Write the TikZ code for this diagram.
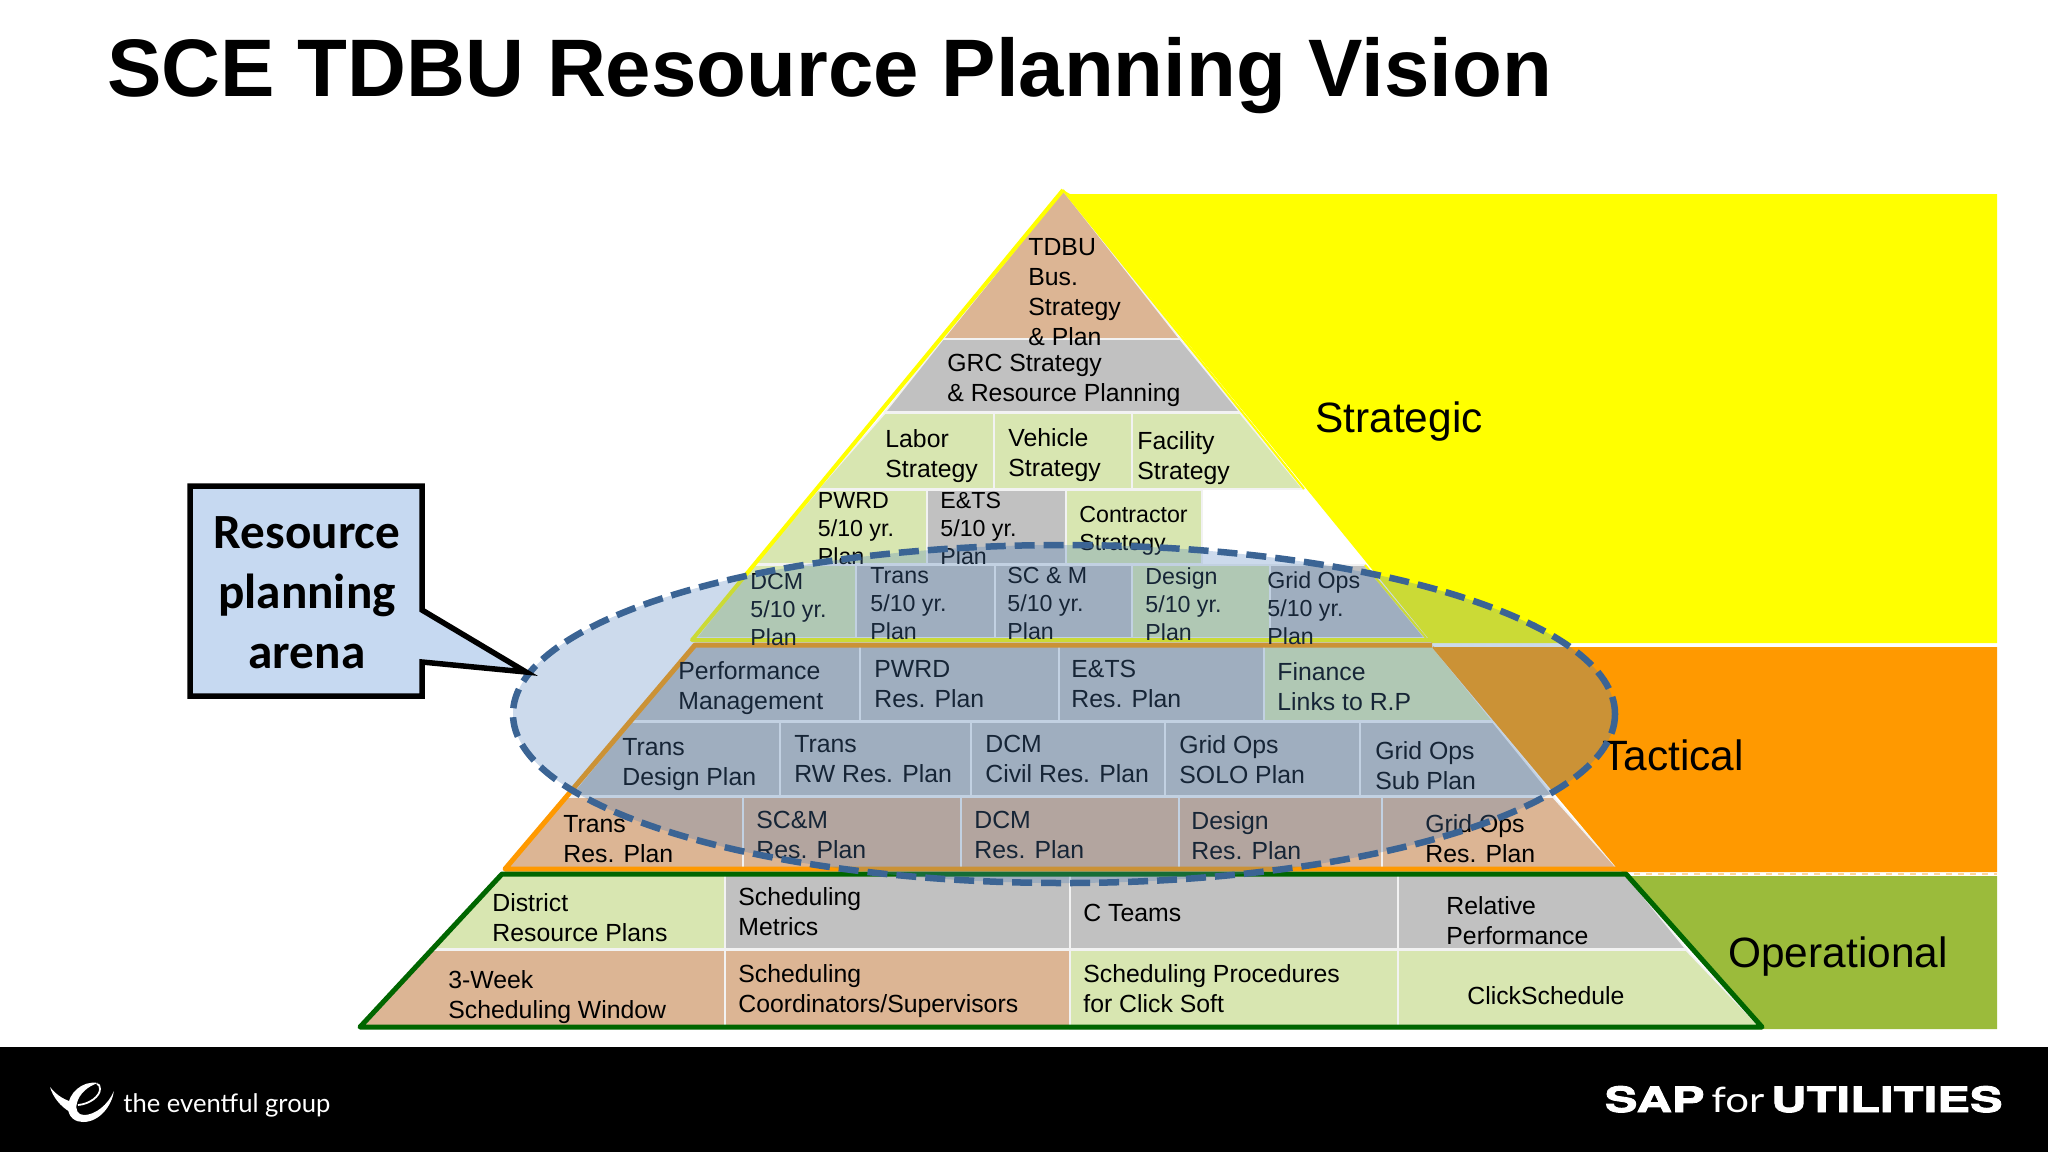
\documentclass[tikz,border=0pt]{standalone}
\usepackage{fontspec}
\setmainfont{Liberation Sans}
\newfontfamily\calloutfont{Carlito}
\newfontfamily\logofont{Lato}
\newfontfamily\sapfont[FakeStretch=1.4,BoldFeatures={FakeBold=2.5}]{TeX Gyre Heros}
\newfontfamily\forfont[FakeStretch=1.2]{Lato}
\usetikzlibrary{positioning}

\definecolor{tanfill}{HTML}{DCB594}
\definecolor{grayfill}{HTML}{C1C1C1}
\definecolor{greenfill}{HTML}{D8E6B1}
\definecolor{bandyellow}{HTML}{FFFF00}
\definecolor{bandorange}{HTML}{FF9900}
\definecolor{bandgreen}{HTML}{9BBB3B}
\definecolor{opgreen}{HTML}{006600}
\definecolor{arenablue}{HTML}{4F81BD}
\definecolor{arenaline}{HTML}{3B6494}
\definecolor{calloutblue}{HTML}{C6D9F1}

\begin{document}
\begin{tikzpicture}[
  x = 0.5pt,
  y = -0.5pt,
  cell/.style = {draw = white!90!gray, line width = 0.8pt},
  tan cell/.style = {cell, fill = tanfill},
  gray cell/.style = {cell, fill = grayfill},
  green cell/.style = {cell, fill = greenfill},
  lbl/.style = {anchor = west, align = left, inner sep = 0pt, yshift = -2.25pt,
    execute at end node = \strut,
    font = \fontsize{12.4}{15}\selectfont},
  small lbl/.style = {lbl, yshift = -0.2pt,
    font = \fontsize{11.6}{14}\selectfont},
  band/.style = {anchor = west, inner sep = 0pt,
    font = \fontsize{21.2}{25}\selectfont}
  ]

  \useasboundingbox (0,0) rectangle (2048,1152);

  \fill[bandyellow] (1063,190) -- (1070,194) -- (1997,194) -- (1997,643) -- (1432,643) -- cycle;
  \fill[bandorange] (1432,647) -- (1997,647) -- (1997,872) -- (1622,872) -- cycle;
  \fill[bandgreen] (1626,876) -- (1997,876) -- (1997,1029) -- (1070,1029) -- (1070,1024) -- (1762,1024) -- cycle;
  \draw[white, dashed, line width = 1pt] (1432,645) -- (1997,645);
  \draw[white!60!bandorange, dashed, line width = 1pt] (1622,873.5) -- (1997,873.5);

  \draw[tan cell] (1063,190) -- (1180,339) -- (943,339) -- cycle;
  \draw[gray cell] (943,339) -- (1180,339) -- (1240,412) -- (885,412) -- cycle;

  \draw[green cell] (885,413) -- (994,413) -- (994,489) -- (818,489) -- cycle;
  \draw[green cell] (994,413) -- (1132,413) -- (1132,489) -- (994,489) -- cycle;
  \draw[green cell] (1132,413) -- (1240,413) -- (1303,489) -- (1132,489) -- cycle;

  \draw[green cell] (818,490) -- (927,490) -- (927,564) -- (754,564) -- cycle;
  \draw[gray cell] (927,490) -- (1066,490) -- (1066,564) -- (927,564) -- cycle;
  \draw[green cell] (1066,490) -- (1202,490) -- (1202,564) -- (1066,564) -- cycle;

  \draw[green cell] (754,565) -- (856,565) -- (856,638) -- (696,638) -- cycle;
  \draw[gray cell] (856,565) -- (995,565) -- (995,638) -- (856,638) -- cycle;
  \draw[gray cell] (995,565) -- (1132,565) -- (1132,638) -- (995,638) -- cycle;
  \draw[green cell] (1132,565) -- (1270,565) -- (1270,638) -- (1132,638) -- cycle;
  \draw[gray cell] (1270,565) -- (1365,565) -- (1425,638) -- (1270,638) -- cycle;

  \draw[gray cell] (695,646) -- (860,646) -- (860,721) -- (631,721) -- cycle;
  \draw[gray cell] (860,646) -- (1059,646) -- (1059,721) -- (860,721) -- cycle;
  \draw[gray cell] (1059,646) -- (1264,646) -- (1264,721) -- (1059,721) -- cycle;
  \draw[green cell] (1264,646) -- (1432,646) -- (1493,721) -- (1264,721) -- cycle;

  \draw[gray cell] (631,722) -- (780,722) -- (780,796) -- (570,796) -- cycle;
  \draw[gray cell] (780,722) -- (971,722) -- (971,796) -- (780,796) -- cycle;
  \draw[gray cell] (971,722) -- (1165,722) -- (1165,796) -- (971,796) -- cycle;
  \draw[gray cell] (1165,722) -- (1360,722) -- (1360,796) -- (1165,796) -- cycle;
  \draw[gray cell] (1360,722) -- (1493,722) -- (1553,796) -- (1360,796) -- cycle;

  \draw[tan cell] (567,797) -- (743,797) -- (743,868) -- (505,868) -- cycle;
  \draw[tan cell] (743,797) -- (961,797) -- (961,868) -- (743,868) -- cycle;
  \draw[tan cell] (961,797) -- (1179,797) -- (1179,868) -- (961,868) -- cycle;
  \draw[tan cell] (1179,797) -- (1382,797) -- (1382,868) -- (1179,868) -- cycle;
  \draw[tan cell] (1382,797) -- (1553,797) -- (1617,868) -- (1382,868) -- cycle;

  \draw[green cell] (502,875) -- (725,875) -- (725,949) -- (432,949) -- cycle;
  \draw[gray cell] (725,875) -- (1070,875) -- (1070,949) -- (725,949) -- cycle;
  \draw[gray cell] (1070,875) -- (1398,875) -- (1398,949) -- (1070,949) -- cycle;
  \draw[gray cell] (1398,875) -- (1626,875) -- (1686,949) -- (1398,949) -- cycle;

  \draw[tan cell] (432,950) -- (725,950) -- (725,1027) -- (362,1027) -- cycle;
  \draw[tan cell] (725,950) -- (1070,950) -- (1070,1027) -- (725,1027) -- cycle;
  \draw[green cell] (1070,950) -- (1398,950) -- (1398,1029) -- (1070,1029) -- cycle;
  \draw[green cell] (1398,950) -- (1686,950) -- (1760,1027) -- (1398,1027) -- cycle;

  \draw[bandyellow, line width = 1pt] (1063,190) -- (1304,489);
  \draw[bandyellow, line width = 1pt] (1365,565) -- (1426,638);
  \draw[bandorange, line width = 1pt] (1433,647) -- (1618,868);
  \draw[bandyellow, line width = 2pt, line join = round] (1063,190) -- (692,640) -- (1432,640);
  \draw[bandorange, line width = 2.5pt, line join = round] (1432,645) -- (695,645) -- (505,869) -- (1622,869);
  \draw[opgreen, line width = 2.5pt, line join = round] (502,874) -- (1626,874) -- (1762,1027) -- (360,1027) -- cycle;

  \node[lbl] (tdbu) at (1028,292) {TDBU\\Bus.\\Strategy\\\& Plan};
  \node[lbl] (grc) at (947,378) {GRC Strategy\\\& Resource Planning};
  \node[lbl] (labor) at (885,454) {Labor\\Strategy};
  \node[lbl] (vehicle) at (1008,452.5) {Vehicle\\Strategy};
  \node[lbl] (facility) at (1137,456) {Facility\\Strategy};
  \node[small lbl] (pwrdyr) at (817.5,527.5) {PWRD\\5/10 yr.\\Plan};
  \node[small lbl] (etsyr) at (940,527.5) {E\&TS\\5/10 yr.\\Plan};
  \node[small lbl] (contractor) at (1079,527.5) {Contractor\\Strategy};
  \node[small lbl] (dcmyr) at (750,609) {DCM\\5/10 yr.\\Plan};
  \node[small lbl] (transyr) at (870,603) {Trans\\5/10 yr.\\Plan};
  \node[small lbl] (scmyr) at (1007,603) {SC \& M\\5/10 yr.\\Plan};
  \node[small lbl] (designyr) at (1145,603) {Design\\5/10 yr.\\Plan};
  \node[small lbl] (gridyr) at (1267,607) {Grid Ops\\5/10 yr.\\Plan};
  \node[lbl] (perf) at (678,686) {Performance\\Management};
  \node[lbl] (pwrdres) at (874,684) {PWRD\\Res. Plan};
  \node[lbl] (etsres) at (1071,684) {E\&TS\\Res. Plan};
  \node[lbl] (finance) at (1277,686) {Finance\\Links to R.P};
  \node[lbl] (transdesign) at (622,762) {Trans\\Design Plan};
  \node[lbl] (transrw) at (794,759) {Trans\\RW Res. Plan};
  \node[lbl] (dcmcivil) at (985,759) {DCM\\Civil Res. Plan};
  \node[lbl] (gridsolo) at (1179,759) {Grid Ops\\SOLO Plan};
  \node[lbl] (gridsub) at (1375,765) {Grid Ops\\Sub Plan};
  \node[lbl] (transres) at (563,839) {Trans\\Res. Plan};
  \node[lbl] (scmres) at (756,835) {SC\&M\\Res. Plan};
  \node[lbl] (dcmres) at (974,835) {DCM\\Res. Plan};
  \node[lbl] (designres) at (1191,835) {Design\\Res. Plan};
  \node[lbl] (gridres) at (1425,838.5) {Grid Ops\\Res. Plan};
  \node[lbl] (district) at (492,917.5) {District\\Resource Plans};
  \node[lbl] (metrics) at (738,911) {Scheduling\\Metrics};
  \node[lbl] (cteams) at (1083,911) {C Teams};
  \node[lbl] (relative) at (1446,920) {Relative\\Performance};
  \node[lbl] (week) at (448,994.5) {3-Week\\Scheduling Window};
  \node[lbl] (coord) at (738,988) {Scheduling\\Coordinators/Supervisors};
  \node[lbl] (proc) at (1083,988) {Scheduling Procedures\\for Click Soft};
  \node[lbl] (click) at (1467,994) {ClickSchedule};

  \node[band] (strategic) at (1315,422) {Strategic};
  \node[band] (tactical) at (1602,755) {Tactical};
  \node[band] (operational) at (1728,957) {Operational};

  \draw[arenaline, fill = arenablue, fill opacity = 0.29, draw opacity = 1,
    line width = 3.25pt, dash pattern = on 10pt off 4.5pt]
    (1064,714) ellipse [x radius = 551, y radius = 169];

  \draw[fill = calloutblue, line width = 2.75pt, miter limit = 20]
    (190,486) -- (422,486) -- (422,610) -- (526,672) -- (422,662) -- (422,696) -- (190,696) -- cycle;
  \node[align = center, inner sep = 0pt, font = \calloutfont\bfseries\fontsize{24.6}{30}\selectfont]
    (arena) at (307,593) {Resource\\planning\\arena};

  \node[anchor = base west, inner sep = 0pt, font = \bfseries\fontsize{40.8}{50}\selectfont]
    (title) at (107,96) {SCE TDBU Resource Planning Vision};

  \fill[black] (0,1047) rectangle (2048,1152);
  \fill[white] (50,1087) .. controls (58,1097) and (66,1100) .. (72,1102) -- (70,1112) .. controls (60,1106) and (53,1097) .. (50,1087) -- cycle;
  \fill[white] (98,1083) .. controls (82,1080) and (68,1094) .. (68,1107) .. controls (68,1118) and (76,1122) .. (83,1122) .. controls (100,1122) and (112,1105) .. (114,1091) .. controls (108,1105) and (95,1115) .. (84,1115) .. controls (78,1115) and (75,1110) .. (77,1103) .. controls (79,1094) and (88,1086) .. (98,1083) -- cycle;
  \draw[white, line width = 0.9pt] (78,1105) .. controls (90,1104) and (100,1096) .. (100,1089) .. controls (100,1086) and (99,1084) .. (97,1084);
  \node[anchor = base west, inner sep = 0pt, text = white, font = \logofont\fontsize{12.8}{16}\selectfont]
    (eventful) at (123,1112) {the eventful group};
  \node[anchor = base east, inner sep = 0pt, text = white, font = \sapfont\bfseries\fontsize{17.5}{20}\selectfont]
    (sap) at (2003,1112) {SAP{\forfont\mdseries\kern-2pt\ for\ \kern-2pt}UTILITIES};

\end{tikzpicture}
\end{document}
